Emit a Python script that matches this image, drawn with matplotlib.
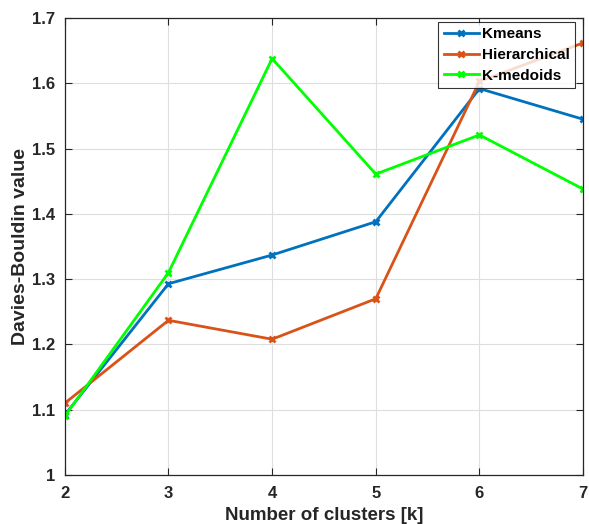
import matplotlib
matplotlib.use('Agg')
import matplotlib.pyplot as plt

plt.rcParams['font.family'] = ['Liberation Sans', 'DejaVu Sans']
plt.rcParams['font.weight'] = 'bold'

# Davies-Bouldin values per number of clusters
k = [2, 3, 4, 5, 6, 7]
kmeans = [1.092, 1.293, 1.337, 1.388, 1.592, 1.545]
hierarchical = [1.110, 1.237, 1.208, 1.270, 1.603, 1.662]
kmedoids = [1.090, 1.310, 1.638, 1.461, 1.521, 1.438]
yticks = [1, 1.1, 1.2, 1.3, 1.4, 1.5, 1.6, 1.7]
ytick_labels = ['1', '1.1', '1.2', '1.3', '1.4', '1.5', '1.6', '1.7']

txt = '#262626'

fig = plt.figure(figsize=(5.89, 5.24), dpi=100)
ax = fig.add_axes([0.110, 0.0935, 0.880, 0.872])

ax.plot(k, kmeans, color='#0072BD', lw=2, marker='x', ms=4, mew=2, label='Kmeans')
ax.plot(k, hierarchical, color='#D95319', lw=2, marker='x', ms=4, mew=2, label='Hierarchical')
ax.plot(k, kmedoids, color='#00FF00', lw=2, marker='x', ms=4, mew=2, label='K-medoids')

ax.set_xlim(2, 7)
ax.set_ylim(1, 1.7)
ax.set_xticks(k)
ax.set_yticks(yticks)
ax.set_yticklabels(ytick_labels)
ax.grid(True, color='#dedede', lw=0.8)
ax.set_axisbelow(True)
ax.tick_params(direction='in', top=True, right=True, labelsize=12, colors=txt,
               length=5, width=0.8)
ax.tick_params(axis='y', pad=7)
ax.tick_params(axis='x', pad=8)
for lbl in ax.get_xticklabels() + ax.get_yticklabels():
    lbl.set_fontweight('bold')
for sp in ax.spines.values():
    sp.set_color(txt)
    sp.set_linewidth(0.9)

ax.set_xlabel('Number of clusters [k]', fontsize=13.5, fontweight='bold', color=txt, labelpad=4)
ax.set_ylabel('Davies-Bouldin value', fontsize=14, fontweight='bold', color=txt, labelpad=2)

leg = ax.legend(loc='upper right', bbox_to_anchor=(0.9846, 0.9912), borderaxespad=0,
                fontsize=11, frameon=True, fancybox=False, edgecolor='black',
                handlelength=2.3, handletextpad=0.2, borderpad=0.35, labelspacing=0.43)
leg.get_frame().set_linewidth(0.8)
for t in leg.get_texts():
    t.set_fontweight('bold')
    t.set_color('black')

fig.savefig('out.png', dpi=100)
